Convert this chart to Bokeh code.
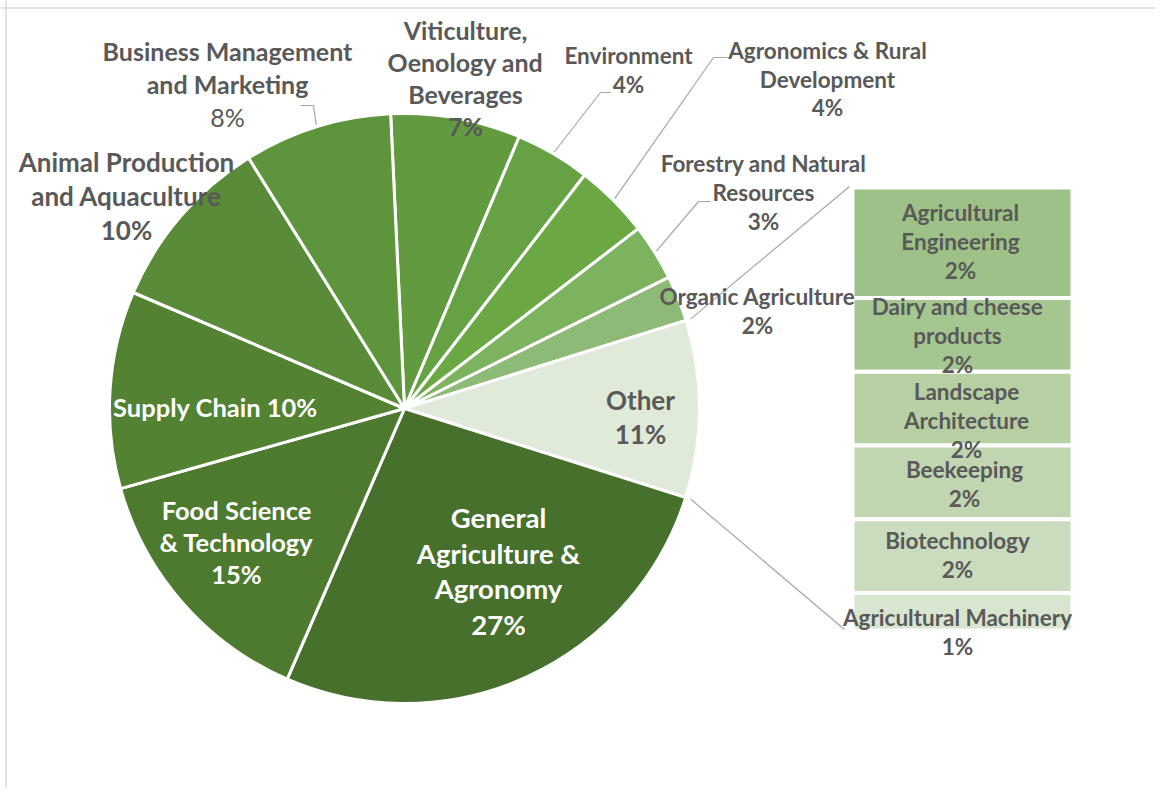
import numpy as np
from bokeh.plotting import figure
from bokeh.models import Range1d, Span, ColumnDataSource
from bokeh.core.properties import value
from bokeh.embed import file_html
from bokeh.resources import INLINE

# ---------------- data ----------------
categories = ["Viticulture, Oenology and Beverages", "Environment",
              "Agronomics & Rural Development", "Forestry and Natural Resources",
              "Organic Agriculture", "Other", "General Agriculture & Agronomy",
              "Food Science & Technology", "Supply Chain",
              "Animal Production and Aquaculture", "Business Management and Marketing"]
values = [7.1, 4.1, 4.1, 3.1, 2.5, 9.7, 26.6, 14.1, 10.8, 9.7, 8.1]
pct_labels = ["7%", "4%", "4%", "3%", "2%", "11%", "27%", "15%", "10%", "10%", "8%"]
slice_colors = ["#629B3F", "#66A144", "#6BA843", "#7DB25E", "#8EBA77", "#E0EAD9",
                "#48702D", "#4E7A2F", "#538233", "#5A8B38", "#5E943B"]

bar_categories = ["Agricultural Engineering", "Dairy and cheese products",
                  "Landscape Architecture", "Beekeeping", "Biotechnology",
                  "Agricultural Machinery"]
bar_values = [2.44, 1.63, 1.63, 1.63, 1.63, 0.83]
bar_pct_labels = ["2%", "2%", "2%", "2%", "2%", "1%"]
bar_colors = ["#9DC186", "#A6C691", "#B6D0A4", "#C0D6B0", "#C9DCBD", "#D8E5CF"]

# ---------------- layout ----------------
W, H = 1155, 787
def px(X, Y):
    """picture pixel -> data coordinate"""
    return X, H - Y

CX, CY = px(404, 408)
R = 295
START_DEG = -2.7  # clockwise from 12 o'clock

BAR_LEFT, BAR_TOP = px(852, 187)
BAR_RIGHT, BAR_BOTTOM = px(1072, 630)

FONT = value("Lato")
GREY = "#595959"

p = figure(width=W, height=H, output_backend="svg", toolbar_location=None,
           x_range=Range1d(0, W), y_range=Range1d(0, H), min_border=0)
p.axis.visible = False
p.grid.visible = False
p.outline_line_color = None
p.background_fill_color = "white"

# frame (left and top edges visible in reference)
p.add_layout(Span(location=5.5, dimension="height", line_color="#D9D9D9", line_width=1.5))
p.add_layout(Span(location=H - 7.5, dimension="width", line_color="#D9D9D9", line_width=1.5))

# ---------------- pie ----------------
vals = np.array(values, dtype=float)
tot = vals.sum()
cum = np.concatenate([[0], np.cumsum(vals)])
theta_s = START_DEG + 360 * cum[:-1] / tot
theta_e = START_DEG + 360 * cum[1:] / tot
start = np.radians(90 - theta_s)
end = np.radians(90 - theta_e)

src = ColumnDataSource(dict(start=start, end=end, color=slice_colors, cat=categories))
p.wedge(x=CX, y=CY, radius=R, start_angle="start", end_angle="end", direction="clock",
        fill_color="color", line_color="white", line_width=3, source=src)

def rim(theta_deg, r=R):
    t = np.radians(theta_deg)
    return CX + r * np.sin(t), CY + r * np.cos(t)

# ---------------- bar of "Other" ----------------
bv = np.array(bar_values, dtype=float)
scale = (BAR_TOP - BAR_BOTTOM) / bv.sum()
bcum = np.concatenate([[0], np.cumsum(bv)])
tops = BAR_TOP - bcum[:-1] * scale
bots = BAR_TOP - bcum[1:] * scale
bsrc = ColumnDataSource(dict(left=[BAR_LEFT] * len(bv), right=[BAR_RIGHT] * len(bv),
                             top=tops, bottom=bots, color=bar_colors, cat=bar_categories))
p.quad(left="left", right="right", top="top", bottom="bottom", fill_color="color",
       line_color="white", line_width=4, source=bsrc)

# connector lines (series lines) from Other slice to bar
oi = categories.index("Other")
x1, y1 = rim(theta_s[oi], R + 5)
x2, y2 = rim(theta_e[oi], R + 5)
p.line([x1, BAR_LEFT - 3], [y1, BAR_TOP + 1], line_color="#A6A6A6", line_width=1.2)
p.line([x2, BAR_LEFT - 8], [y2, BAR_BOTTOM + 1], line_color="#A6A6A6", line_width=1.2)

# leader lines for outside labels: slice mid-rim -> elbow -> end
leaders = {
    "Business Management and Marketing": [(313, 105), (300, 105)],
    "Environment": [(600, 92), (610, 92)],
    "Agronomics & Rural Development": [(713, 57), (727, 57)],
    "Forestry and Natural Resources": [(698, 201), (710, 201)],
}
for cat, pts in leaders.items():
    i = categories.index(cat)
    mx, my = rim((theta_s[i] + theta_e[i]) / 2, R + 2)
    xs = [mx] + [px(a, b)[0] for a, b in pts]
    ys = [my] + [px(a, b)[1] for a, b in pts]
    p.line(xs, ys, line_color="#A6A6A6", line_width=1.2)

# ---------------- labels ----------------
def add_text(lines, X, Y, spacing, size, color, style="bold", styles=None):
    for k, t in enumerate(lines):
        x, y = px(X, Y + k * spacing)
        st = styles[k] if styles else style
        p.text(x=[x], y=[y], text=[t], text_font=FONT, text_font_size=value(f"{size}px"),
               text_color=color, text_font_style=st, text_align="center",
               text_baseline="middle")

SMALL = 22.5
def lbl(name):
    return pct_labels[categories.index(name)]

add_text(["Business Management", "and Marketing", lbl("Business Management and Marketing")],
         227, 50, 33, 25, GREY, styles=["bold", "bold", "normal"])
add_text(["Viticulture,", "Oenology and", "Beverages", lbl("Viticulture, Oenology and Beverages")],
         465, 29, 32.3, 25, GREY)
add_text(["Animal Production", "and Aquaculture", lbl("Animal Production and Aquaculture")],
         126, 161, 34, 26, GREY)
add_text(["Other", lbl("Other")], 640, 399, 34, 26, GREY)
add_text(["Supply Chain " + lbl("Supply Chain")], 215, 406, 0, 25.5, "white")
add_text(["Food Science", "& Technology", lbl("Food Science & Technology")],
         236, 509, 32, 25.5, "white")
add_text(["General", "Agriculture &", "Agronomy", lbl("General Agriculture & Agronomy")],
         498, 517, 35.7, 27.5, "white")

add_text(["Environment", lbl("Environment")], 628, 55, 29, SMALL, GREY)
add_text(["Agronomics & Rural", "Development", lbl("Agronomics & Rural Development")],
         827, 50, 28.5, SMALL, GREY)
add_text(["Forestry and Natural", "Resources", lbl("Forestry and Natural Resources")],
         763, 163, 29, SMALL, GREY)
add_text(["Organic Agriculture", lbl("Organic Agriculture")], 757, 296, 29, SMALL, GREY)

bar_label_layout = [
    (["Agricultural", "Engineering"], 960, 212),
    (["Dairy and cheese", "products"], 957, 306),
    (["Landscape", "Architecture"], 966, 391),
    (["Beekeeping"], 964, 469),
    (["Biotechnology"], 957, 540),
    (["Agricultural Machinery"], 957, 617),
]
for (lines, X, Y), pl in zip(bar_label_layout, bar_pct_labels):
    add_text(lines + [pl], X, Y, 28.8, SMALL, GREY)

open("out.html", "w").write(file_html(p, INLINE))
